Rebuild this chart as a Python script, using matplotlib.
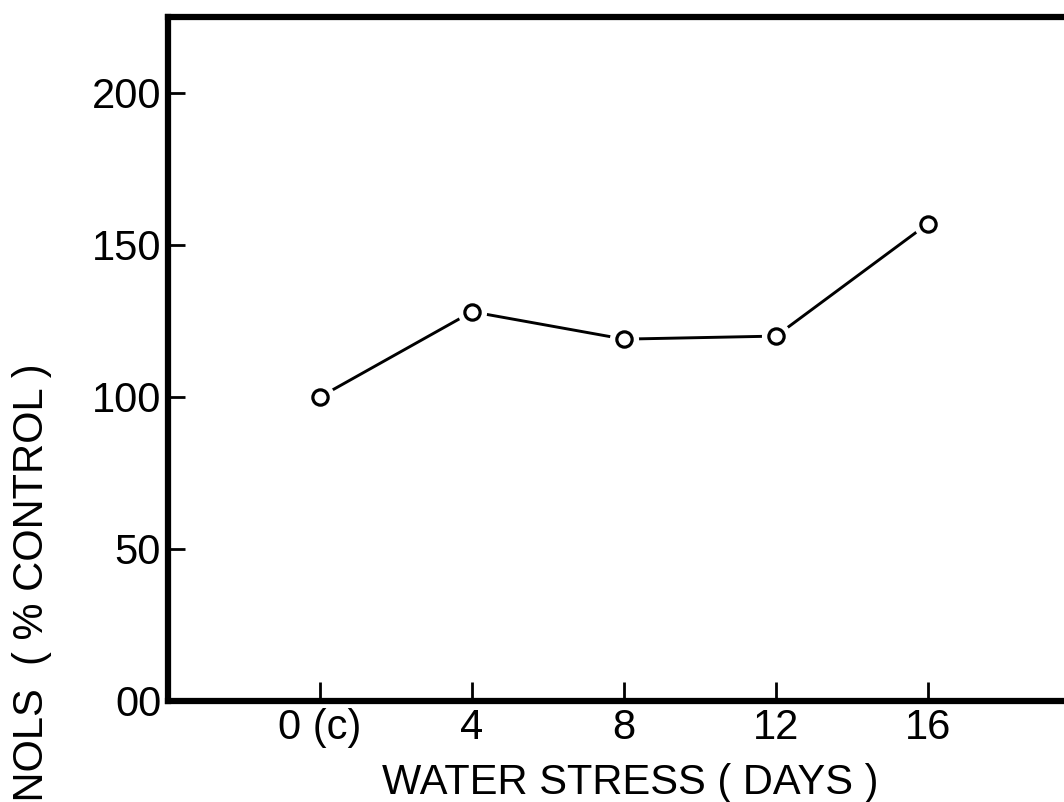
import matplotlib
matplotlib.use("Agg")
import matplotlib.pyplot as plt

# Phenol content during water stress, as a percentage of the control
days = [0, 4, 8, 12, 16]
phenols_pct = [100, 128, 119, 120, 157]

x_ticks = [0, 4, 8, 12, 16]
x_tick_labels = ["0 (c)", "4", "8", "12", "16"]
y_ticks = [0, 50, 100, 150, 200]
y_tick_labels = ["00", "50", "100", "150", "200"]

plt.rcParams["font.family"] = ["Liberation Sans", "DejaVu Sans"]

fig = plt.figure(figsize=(10.64, 8.02), dpi=100)
# the frame runs past the right edge of the page
ax = fig.add_axes([0.158, 0.126, 0.857, 0.853])

# line first, then a white halo under each open circle so the line stops short of it
ax.plot(days, phenols_pct, color="black", lw=2.1, zorder=2)
ax.plot(days, phenols_pct, ls="none", marker="o", ms=20,
        markerfacecolor="white", markeredgecolor="white", zorder=3)
ax.plot(days, phenols_pct, ls="none", marker="o", ms=11, mew=2.3,
        markerfacecolor="white", markeredgecolor="black", zorder=4)

ax.set_xlim(-4, 20)
ax.set_ylim(0, 225)

for side in ["left", "right", "top", "bottom"]:
    ax.spines[side].set_linewidth(4.5)

ax.set_xticks(x_ticks)
ax.set_xticklabels(x_tick_labels)
ax.set_yticks(y_ticks)
ax.set_yticklabels(y_tick_labels)
ax.tick_params(axis="x", direction="in", length=14, width=2, labelsize=30, pad=5)
ax.tick_params(axis="y", direction="in", length=12, width=2, labelsize=30, pad=5)

ax.set_xlabel("WATER STRESS ( DAYS )", fontsize=30)
ax.xaxis.set_label_coords(0.507, -0.09)
ax.xaxis.label.set_va("top")

fig.text(0.030, 0.547, "PHENOLS  ( % CONTROL )", rotation=90,
         ha="center", va="top", fontsize=30)

fig.savefig("out.png", dpi=100)
